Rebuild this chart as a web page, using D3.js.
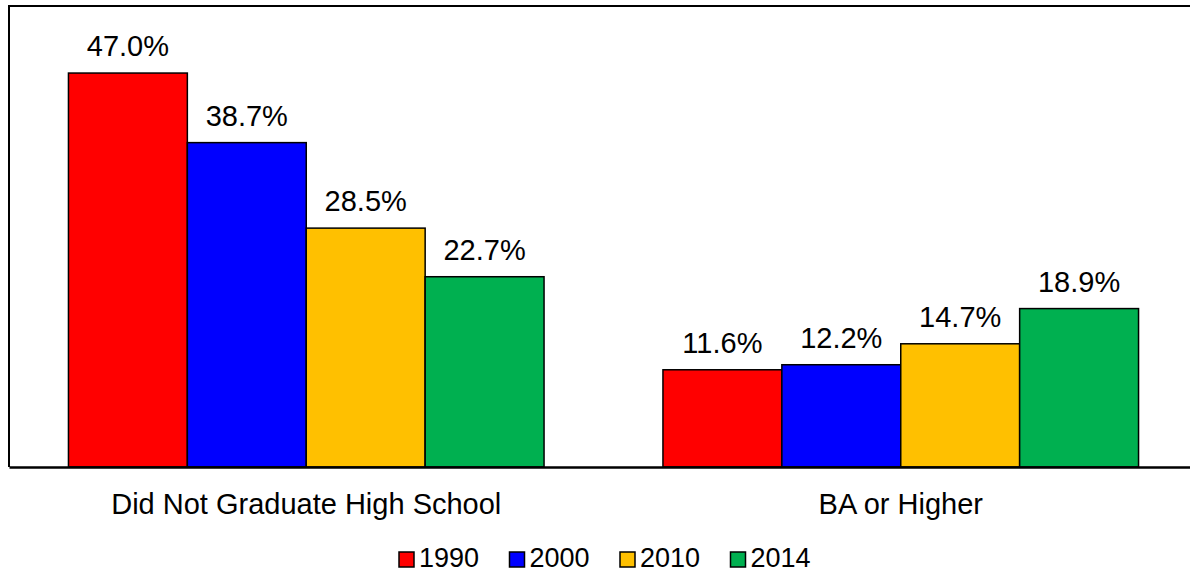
<!DOCTYPE html>
<html>
<head>
<meta charset="utf-8">
<script src="https://cdn.jsdelivr.net/npm/d3@7"></script>
<style>
  html, body { margin: 0; padding: 0; background: #fff; }
  svg { display: block; font-family: "Liberation Sans", Arial, sans-serif; }
</style>
</head>
<body>
<svg id="chart" width="1190" height="573"></svg>
<script>
const categories = ["Did Not Graduate High School", "BA or Higher"];
const years = ["1990", "2000", "2010", "2014"];
const values1990 = [47.0, 11.6];
const values2000 = [38.7, 12.2];
const values2010 = [28.5, 14.7];
const values2014 = [22.7, 18.9];
const colors = ["#FF0000", "#0000FF", "#FFC000", "#00B050"];
const yDomain = [0, 55];

const seriesValues = [values1990, values2000, values2010, values2014];
const data = categories.map((c, ci) => ({
  category: c,
  values: years.map((y, yi) => ({ year: y, value: seriesValues[yi][ci], color: colors[yi] }))
}));

const svg = d3.select("#chart");
const plot = { left: 9, top: 6, right: 1198, bottom: 467 };

const x0 = d3.scaleBand().domain(categories).range([plot.left, plot.right])
  .paddingInner(0.2).paddingOuter(0.1);
const x1 = d3.scaleBand().domain(years).range([0, x0.bandwidth()]);
const y = d3.scaleLinear().domain(yDomain).range([plot.bottom, plot.top]);

// plot border (left + top)
svg.append("path")
  .attr("d", `M${plot.left},${plot.bottom}V${plot.top}H${plot.right}`)
  .attr("fill", "none").attr("stroke", "#000").attr("stroke-width", 2);

const groups = svg.selectAll("g.grp").data(data).join("g")
  .attr("class", "grp")
  .attr("transform", d => `translate(${x0(d.category)},0)`);

groups.selectAll("rect").data(d => d.values).join("rect")
  .attr("x", d => x1(d.year))
  .attr("y", d => y(d.value))
  .attr("width", x1.bandwidth())
  .attr("height", d => y(0) - y(d.value))
  .attr("fill", d => d.color)
  .attr("stroke", "#000").attr("stroke-width", 1.5);

groups.selectAll("text.val").data(d => d.values).join("text")
  .attr("class", "val")
  .attr("x", d => x1(d.year) + x1.bandwidth() / 2)
  .attr("y", d => y(d.value) - 17)
  .attr("text-anchor", "middle")
  .attr("font-size", 29)
  .attr("fill", "#000")
  .text(d => d.value.toFixed(1) + "%");

// x axis
const xAxis = d3.axisBottom(x0).tickSize(0).tickPadding(26);
const gx = svg.append("g").attr("transform", `translate(0,${plot.bottom})`).call(xAxis);
gx.select(".domain").attr("stroke", "#000").attr("stroke-width", 2.5);
gx.selectAll("text").attr("font-size", 29).attr("fill", "#000")
  .attr("font-family", "'Liberation Sans', Arial, sans-serif");

// legend
const legendX = d3.scalePoint().domain(years).range([399, 730.5]);
const lg = svg.selectAll("g.leg").data(years).join("g")
  .attr("class", "leg")
  .attr("transform", d => `translate(${legendX(d)},552)`);
lg.append("rect").attr("width", 15).attr("height", 15)
  .attr("fill", (d, i) => colors[i]).attr("stroke", "#000").attr("stroke-width", 1.5);
lg.append("text").attr("x", 20).attr("y", 15).attr("font-size", 27).attr("fill", "#000")
  .text(d => d);
</script>
</body>
</html>
